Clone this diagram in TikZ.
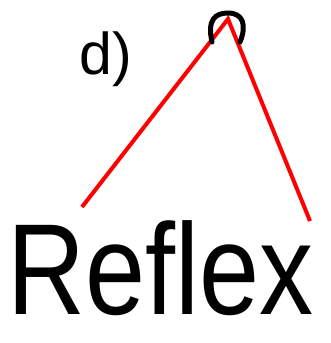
\documentclass[tikz,border=0pt]{standalone}
\usepackage{fontspec}
\setmainfont{Liberation Sans}
\begin{document}
\begin{tikzpicture}[x=1pt,y=-1pt,
  redline/.style={draw=red, line width=4pt},
  loopmark/.style={draw=black, line width=5pt, line cap=round},
  label/.style={inner sep=0pt, anchor=base west}]
\useasboundingbox (0,0) rectangle (330,343);
\node[label, font=\fontsize{59}{59}\selectfont] (lbl) at (79,74) {d)};
\coordinate (apex) at (228,19);
\coordinate (lend) at (82,207);
\coordinate (rend) at (310,221);
\draw[redline] (lend) -- (apex) -- (rend);
\draw[loopmark] (212,42) .. controls (207,20) and (215,13) .. (228,13) .. controls (243,13) and (247,25) .. (240,42);
\node[label, font=\fontsize{108}{108}\selectfont] (word) at (7,314) {\scalebox{1}[1.2]{Reflex}};
\end{tikzpicture}
\end{document}
